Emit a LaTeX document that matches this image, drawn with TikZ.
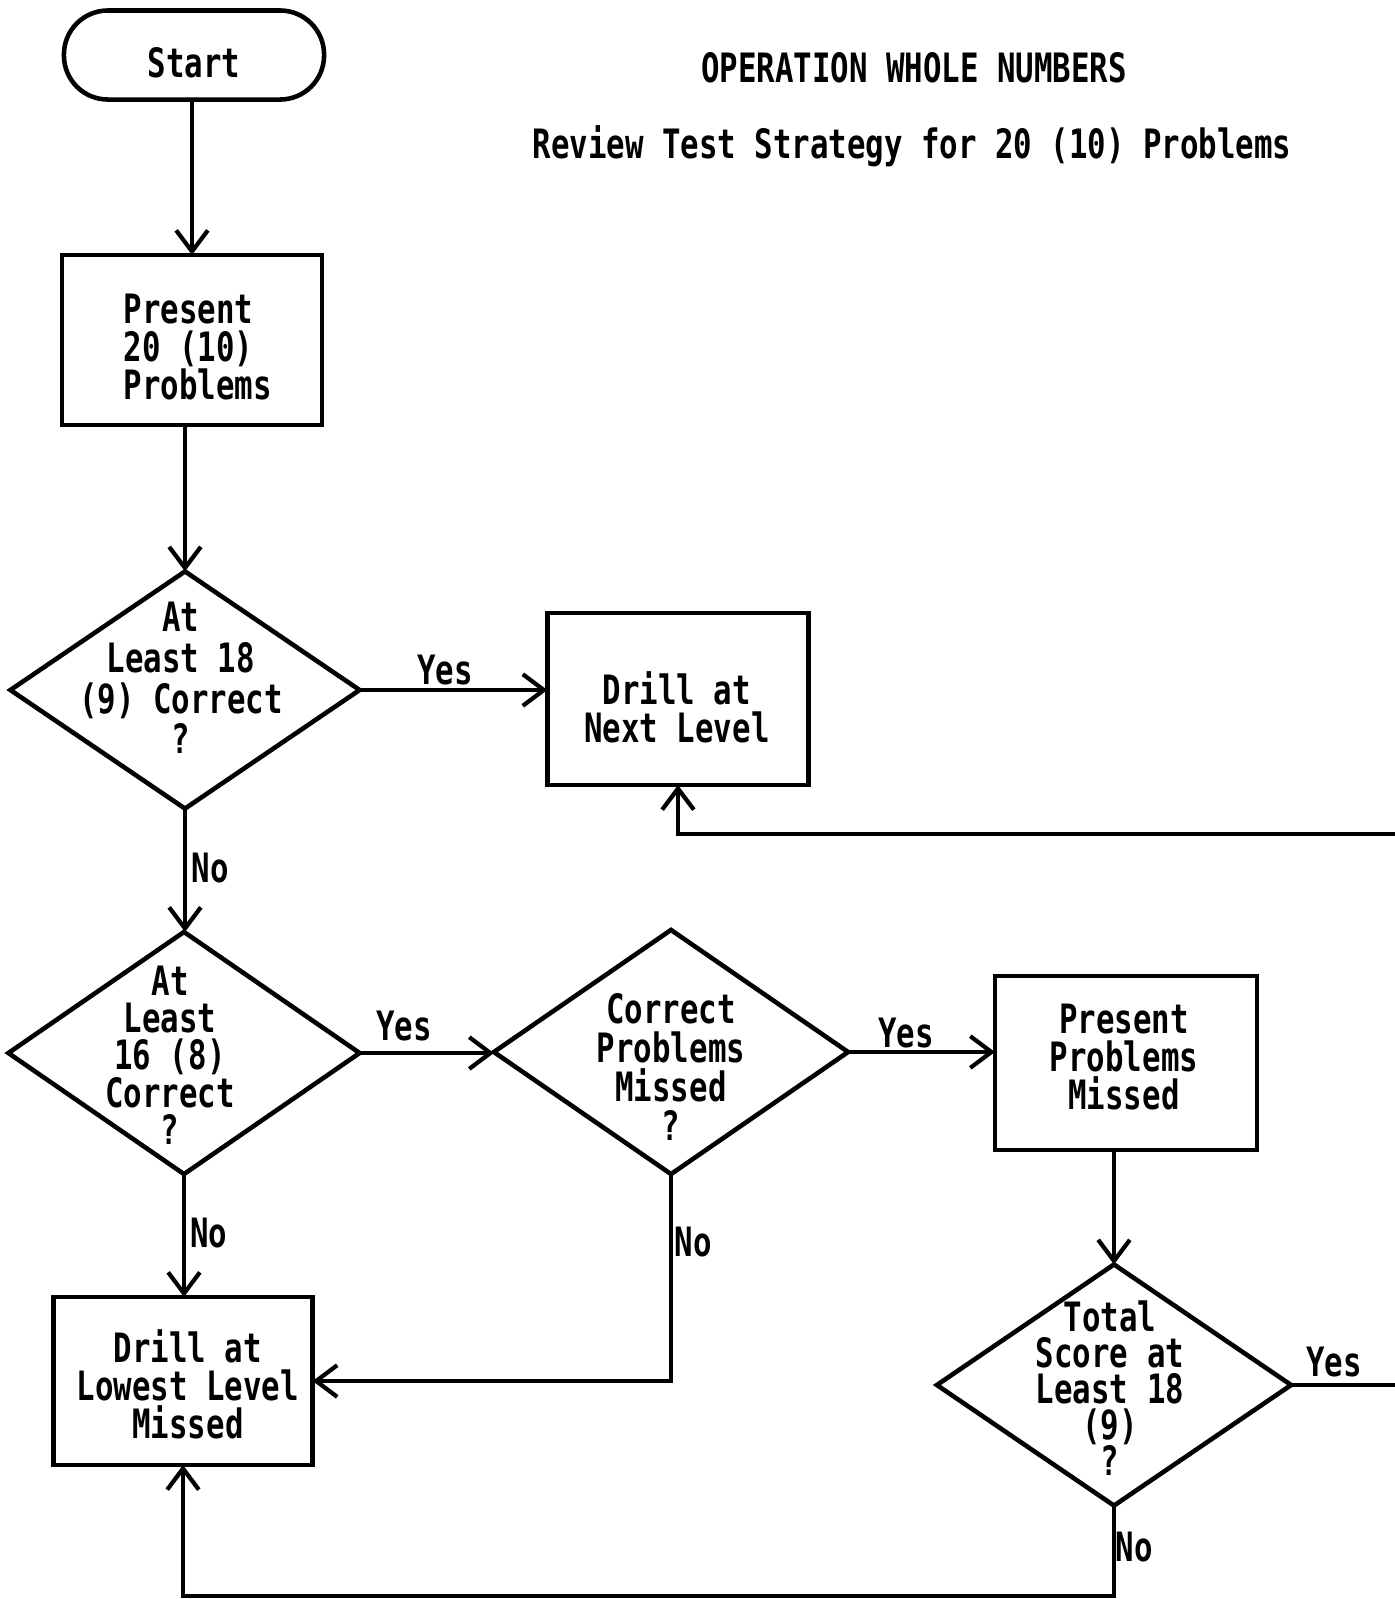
\documentclass[tikz,border=0pt]{standalone}
\usepackage{fontspec}
\newfontfamily\gothfont[FakeStretch=0.76]{DejaVu Sans Mono}
\usetikzlibrary{shapes.geometric,arrows.meta}
\begin{document}
\begin{tikzpicture}[x=0.01cm,y=-0.01cm,
  every path/.style={line width=1.2pt},
  base/.style={font=\gothfont\bfseries\fontsize{11.5}{10.8}\selectfont, inner sep=0pt},
  box/.style={draw, line width=1.3pt, inner sep=0pt, outer sep=0pt},
  dia/.style={draw, diamond, line width=1.3pt, inner sep=0pt, outer sep=0pt},
  txt/.style={base, align=center},
  lbl/.style={base},
  arr/.style={-{Straight Barb[length=6pt,width=9pt,line width=1.2pt]}}
]
\useasboundingbox (0,0) rectangle (1395,1599);

% titles
\node[lbl] (t1) at (914,68) {OPERATION WHOLE NUMBERS};
\node[lbl] (t2) at (912,146) {Review Test Strategy for 20 (10) Problems};

% shapes
\node[box, rounded corners=0.44cm, minimum width=2.60cm, minimum height=0.89cm] (start) at (194,55) {};
\node[txt] (startt) at (194,63) {Start};

\node[box, minimum width=2.60cm, minimum height=1.70cm] (present) at (192,340) {};
\node[txt, align=left] (presentt) at (198,347) {Present\\20 (10)\\Problems};

\node[dia, minimum width=3.49cm, minimum height=2.37cm] (d1) at (185,690) {};
\node[txt, font=\gothfont\bfseries\fontsize{11.5}{11.6}\selectfont] (d1t) at (181,678) {At\\Least 18\\(9) Correct\\?};

\node[box, minimum width=2.61cm, minimum height=1.72cm] (next) at (678,699) {};
\node[txt] (nextt) at (677,707) {Drill at\\Next Level};

\node[dia, minimum width=3.51cm, minimum height=2.42cm] (d2) at (184,1053) {};
\node[txt, font=\gothfont\bfseries\fontsize{11.5}{10.6}\selectfont] (d2t) at (170,1055) {At\\Least\\16 (8)\\Correct\\?};

\node[dia, minimum width=3.54cm, minimum height=2.44cm] (d3) at (671,1052) {};
\node[txt, font=\gothfont\bfseries\fontsize{11.5}{11.1}\selectfont] (d3t) at (671,1067) {Correct\\Problems\\Missed\\?};

\node[box, minimum width=2.62cm, minimum height=1.74cm] (ppm) at (1126,1063) {};
\node[txt] (ppmt) at (1124,1057) {Present\\Problems\\Missed};

\node[dia, minimum width=3.54cm, minimum height=2.41cm] (d4) at (1114,1385) {};
\node[txt, font=\gothfont\bfseries\fontsize{11.5}{10.2}\selectfont] (d4t) at (1110,1388) {Total\\Score at\\Least 18\\(9)\\?};

\node[box, minimum width=2.59cm, minimum height=1.68cm] (lowest) at (183,1381) {};
\node[txt] (lowestt) at (188,1384) {Drill at\\Lowest Level\\Missed};

% labels
\node[lbl] (y1) at (445,670) {Yes};
\node[lbl] (n1) at (210,868) {No};
\node[lbl] (y2) at (404,1026) {Yes};
\node[lbl] (y3) at (906,1033) {Yes};
\node[lbl] (n2) at (209,1233) {No};
\node[lbl] (n3) at (693,1242) {No};
\node[lbl] (y4) at (1334,1362) {Yes};
\node[lbl] (n4) at (1134,1547) {No};

% coordinates for free routing
\coordinate (rt) at (1399,834);
\coordinate (bot) at (0,1596);

% connectors
\draw[arr] (present.north |- start.south) -- (present.north);
\draw[arr] (d1.north |- present.south) -- (d1.north);
\draw[arr] (d1.east) -- (d1.east -| next.west);
\draw[arr] (d1.south) -- (d1.south |- d2.north);
\draw[arr] (d2.east) -- (d2.east -| d3.west);
\draw[arr] (d3.east) -- (d3.east -| ppm.west);
\draw[arr] (d2.south) -- (d2.south |- lowest.north);
\draw[arr] (d3.south) |- (lowest.east);
\draw[arr] (d4.north |- ppm.south) -- (d4.north);
\draw[arr] (d4.east) -| (rt) -| (next.south);
\draw[arr] (d4.south) -- (d4.south |- bot) -| (lowest.south);
\end{tikzpicture}
\end{document}
